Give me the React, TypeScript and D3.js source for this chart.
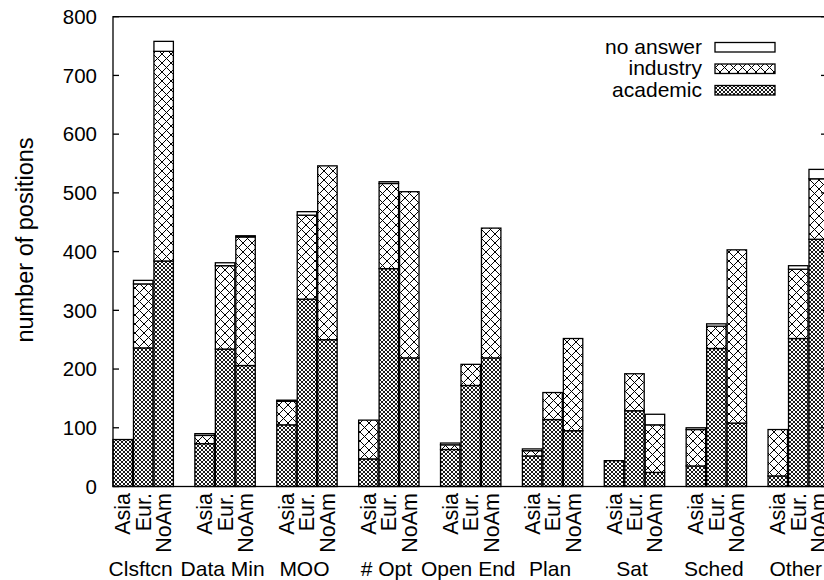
import React, { useEffect, useRef } from 'react';
import * as d3 from 'd3';

const categories = ['Clsftcn', 'Data Min', 'MOO', '# Opt', 'Open End', 'Plan', 'Sat', 'Sched', 'Other'];
const regions = ['Asia', 'Eur.', 'NoAm'];
// per category: [Asia, Eur., NoAm]
const academic = [[80, 236, 384], [73, 234, 206], [105, 319, 250], [47, 371, 219], [63, 172, 219], [52, 114, 95], [44, 129, 24], [35, 235, 108], [18, 252, 421]];
const industry = [[0, 109, 357], [14, 142, 219], [40, 143, 296], [66, 145, 283], [8, 36, 221], [9, 46, 157], [0, 63, 81], [62, 38, 295], [79, 118, 103]];
const noAnswer = [[0, 6, 17], [3, 5, 2], [2, 6, 0], [0, 3, 0], [3, 0, 0], [3, 0, 0], [0, 0, 18], [3, 4, 0], [0, 6, 16]];
const yTicks = [0, 100, 200, 300, 400, 500, 600, 700, 800];
const legendItems = ['no answer', 'industry', 'academic'];

const App = () => {
  const ref = useRef<SVGSVGElement>(null);

  useEffect(() => {
    const svg = d3.select(ref.current);
    svg.selectAll('*').remove();

    const left = 113, right = 827, top = 16.7, bottom = 486.5;
    const slot = 20.47;
    const font = 'Liberation Sans, Arial, Helvetica, sans-serif';
    const fs = 21;

    const defs = svg.append('defs');
    const mkPattern = (id: string, s: number, sw: number) => {
      const p = defs.append('pattern').attr('id', id).attr('width', s).attr('height', s)
        .attr('patternUnits', 'userSpaceOnUse');
      p.append('rect').attr('width', s).attr('height', s).attr('fill', 'white');
      p.append('path').attr('d', `M0,0L${s},${s}M${s},0L0,${s}`)
        .attr('stroke', 'black').attr('stroke-width', sw);
    };
    mkPattern('pInd', 9, 1);
    mkPattern('pAca', 4, 0.9);

    const x = d3.scaleLinear().domain([0, 36]).range([left, left + 36 * slot]);
    const y = d3.scaleLinear().domain([0, 800]).range([bottom, top]);

    const fills = ['url(#pAca)', 'url(#pInd)', 'white'];
    const layers = [academic, industry, noAnswer];

    const g = svg.append('g');
    categories.forEach((cat, ci) => {
      regions.forEach((reg, ri) => {
        const idx = ci * 4 + ri;
        const bw = slot * 0.95;
        const x0 = x(idx);
        let base = 0;
        layers.forEach((layer, li) => {
          const v = layer[ci][ri];
          if (v > 0) {
            g.append('rect')
              .attr('x', x0)
              .attr('width', bw)
              .attr('y', y(base + v))
              .attr('height', y(base) - y(base + v))
              .attr('fill', fills[li])
              .attr('stroke', 'black')
              .attr('stroke-width', 1.3);
          }
          base += v;
        });
        const cx = x0 + bw / 2;
        svg.append('text')
          .attr('transform', `translate(${cx},493) rotate(-90)`)
          .attr('dy', '0.35em')
          .attr('text-anchor', 'end')
          .attr('font-family', font)
          .attr('font-size', 21.5)
          .text(reg);
      });
      svg.append('text')
        .attr('x', x(ci * 4 + 1.5) - 3)
        .attr('y', 576)
        .attr('text-anchor', 'middle')
        .attr('font-family', font)
        .attr('font-size', fs)
        .text(cat);
    });

    // frame and ticks
    const frame = svg.append('g').attr('stroke', 'black').attr('stroke-width', 1.3).attr('fill', 'none');
    frame.append('rect').attr('x', left).attr('y', top).attr('width', right - left).attr('height', bottom - top);
    yTicks.forEach(t => {
      frame.append('line').attr('x1', left).attr('x2', left + 6).attr('y1', y(t)).attr('y2', y(t));
      frame.append('line').attr('x1', right).attr('x2', right - 6).attr('y1', y(t)).attr('y2', y(t));
      svg.append('text')
        .attr('x', 97)
        .attr('y', y(t))
        .attr('dy', '0.35em')
        .attr('text-anchor', 'end')
        .attr('font-family', font)
        .attr('font-size', 20.5)
        .text(t);
    });

    svg.append('text')
      .attr('transform', `translate(25,240) rotate(-90)`)
      .attr('dy', '0.35em')
      .attr('text-anchor', 'middle')
      .attr('font-family', font)
      .attr('font-size', 23.5)
      .text('number of positions');

    // legend
    const legendFills = ['white', 'url(#pInd)', 'url(#pAca)'];
    legendItems.forEach((name, i) => {
      const by = 53.5 + i * 21.5;
      svg.append('text')
        .attr('x', 702)
        .attr('y', by)
        .attr('text-anchor', 'end')
        .attr('font-family', font)
        .attr('font-size', fs)
        .text(name);
      svg.append('rect')
        .attr('x', 715)
        .attr('y', by - 11)
        .attr('width', 60)
        .attr('height', 9.5)
        .attr('fill', legendFills[i])
        .attr('stroke', 'black')
        .attr('stroke-width', 1.3);
    });
  }, []);

  return (
    <svg ref={ref} width={824} height={580}
      style={{ position: 'absolute', left: 0, top: 0, background: 'white' }} />
  );
};

export default App;
